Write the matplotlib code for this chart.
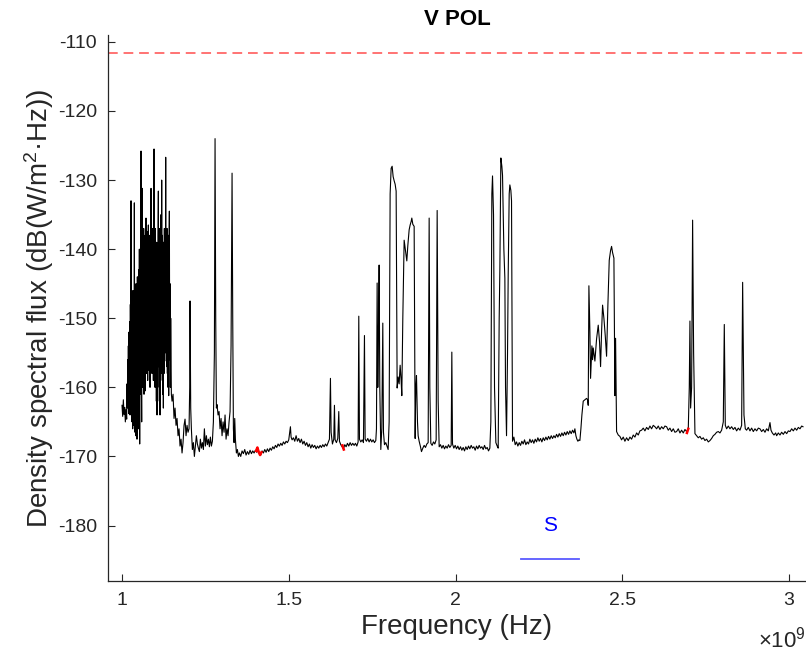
import numpy as np
import matplotlib.pyplot as plt

plt.rcParams['font.family'] = ['Liberation Sans', 'DejaVu Sans']
plt.rcParams['mathtext.default'] = 'regular'
plt.rcParams['axes.unicode_minus'] = False

# spectrum trace, (frequency GHz, flux dB)
seg_dense = [
    (1.000, -162.6), (1.002, -164.2), (1.004, -161.8), (1.006, -163.9), (1.008, -162.9),
    (1.010, -165.0), (1.012, -163.2), (1.014, -164.6), (1.015, -159.5), (1.016, -163.0),
    (1.017, -156.0), (1.018, -162.5), (1.019, -154.0), (1.020, -163.8), (1.021, -152.0),
    (1.022, -161.5), (1.023, -150.5), (1.024, -164.0), (1.025, -148.0), (1.026, -160.0),
    (1.027, -133.0), (1.028, -158.0), (1.029, -146.0), (1.030, -165.0), (1.031, -150.0),
    (1.032, -166.0), (1.033, -146.0), (1.034, -163.0), (1.035, -149.0), (1.036, -165.5),
    (1.037, -133.3), (1.038, -160.0), (1.039, -166.5), (1.040, -147.0), (1.041, -167.0),
    (1.042, -145.0), (1.043, -164.0), (1.044, -150.0), (1.045, -167.5), (1.046, -144.0),
    (1.047, -162.0), (1.048, -146.0), (1.049, -166.0), (1.050, -143.0), (1.051, -164.0),
    (1.052, -140.0), (1.053, -168.2), (1.054, -142.0), (1.055, -161.0), (1.056, -138.0),
    (1.057, -125.8), (1.058, -158.0), (1.059, -165.0), (1.060, -140.0), (1.061, -131.2),
    (1.062, -160.0), (1.063, -139.0), (1.064, -158.0), (1.065, -137.0), (1.066, -161.0),
    (1.067, -141.0), (1.068, -157.0), (1.069, -138.0), (1.070, -160.5), (1.071, -140.0),
    (1.072, -135.5), (1.073, -158.0), (1.074, -139.0), (1.075, -156.0), (1.076, -137.5),
    (1.077, -159.0), (1.078, -141.0), (1.079, -136.5), (1.080, -157.5), (1.081, -139.0),
    (1.082, -155.0), (1.083, -138.0), (1.084, -160.0), (1.085, -140.0), (1.086, -151.4),
    (1.087, -131.2), (1.088, -156.0), (1.089, -139.0), (1.090, -158.0), (1.091, -137.0),
    (1.092, -155.0), (1.093, -141.0), (1.094, -159.0), (1.095, -139.0), (1.096, -125.5),
    (1.097, -154.3), (1.098, -138.0), (1.099, -160.0), (1.100, -137.0), (1.101, -158.0),
    (1.102, -140.0), (1.103, -162.0), (1.104, -139.0), (1.105, -164.0), (1.106, -141.0),
    (1.107, -160.0), (1.108, -138.0), (1.109, -131.6), (1.110, -157.0), (1.111, -140.0),
    (1.112, -162.0), (1.113, -137.0), (1.114, -164.0), (1.115, -139.0), (1.116, -159.0),
    (1.117, -135.0), (1.118, -158.0), (1.119, -130.0), (1.120, -156.0), (1.121, -138.0),
    (1.122, -161.0), (1.123, -140.0), (1.124, -163.0), (1.125, -139.0), (1.126, -158.0),
    (1.127, -137.0), (1.128, -156.2), (1.129, -138.0), (1.130, -155.0), (1.131, -126.7),
    (1.132, -152.0), (1.133, -139.0), (1.134, -157.0), (1.135, -137.0), (1.136, -158.0),
    (1.137, -140.0), (1.138, -160.0), (1.139, -138.0), (1.140, -161.2), (1.141, -140.0),
    (1.142, -134.5), (1.143, -156.0), (1.144, -145.0), (1.145, -160.0), (1.146, -150.0),
    (1.148, -161.0), (1.150, -162.0), (1.153, -161.0),
]

seg_low = [
    (1.156, -164.5), (1.159, -163.0), (1.162, -165.5), (1.165, -164.5), (1.168, -167.0),
    (1.171, -166.0), (1.174, -168.5), (1.177, -167.5), (1.180, -169.5), (1.183, -168.0),
    (1.186, -165.5), (1.189, -164.6), (1.192, -167.0), (1.195, -165.5), (1.198, -166.5),
    (1.201, -166.0), (1.203, -160.0), (1.204, -147.5), (1.206, -163.0), (1.208, -166.0),
    (1.211, -169.0), (1.214, -168.0), (1.217, -170.0), (1.220, -168.5), (1.223, -167.0),
    (1.226, -168.2), (1.229, -168.8), (1.232, -169.3), (1.235, -167.5), (1.238, -168.8),
    (1.241, -168.0), (1.244, -169.0), (1.247, -166.0), (1.250, -168.5), (1.253, -167.0),
    (1.256, -168.3), (1.259, -167.5), (1.262, -168.6), (1.265, -167.2), (1.268, -168.5),
    (1.271, -167.8), (1.274, -165.0), (1.277, -155.0), (1.279, -124.0), (1.281, -150.0),
    (1.283, -163.0), (1.285, -162.5), (1.288, -164.0), (1.291, -163.5), (1.294, -166.0),
    (1.297, -164.5), (1.300, -167.0), (1.303, -165.0), (1.306, -166.5), (1.309, -164.0),
    (1.312, -167.5), (1.315, -166.0), (1.318, -167.0), (1.321, -165.0), (1.324, -163.5),
    (1.327, -154.0), (1.330, -129.0), (1.332, -150.0), (1.334, -166.0), (1.336, -168.0),
    (1.338, -164.5), (1.340, -167.5), (1.343, -169.5), (1.346, -169.0), (1.349, -170.0),
]

seg_mid = [
    (1.352, -169.5), (1.356, -170.0), (1.360, -169.2), (1.364, -169.6), (1.368, -169.0),
    (1.372, -169.8), (1.376, -169.3), (1.380, -169.7), (1.384, -169.1), (1.388, -169.6),
    (1.392, -169.2), (1.396, -169.5), (1.400, -169.1), (1.404, -169.4), (1.408, -169.0),
    (1.412, -169.5), (1.416, -169.8), (1.420, -169.2), (1.424, -169.5), (1.428, -169.0),
    (1.432, -169.4), (1.436, -168.9), (1.440, -169.3), (1.444, -168.8), (1.448, -169.1),
    (1.452, -168.6), (1.456, -168.9), (1.460, -168.4), (1.464, -168.7), (1.468, -168.2),
    (1.472, -168.5), (1.476, -168.1), (1.480, -168.4), (1.484, -167.9), (1.488, -168.2),
    (1.492, -167.8), (1.496, -168.0), (1.500, -167.6), (1.503, -166.5), (1.505, -165.7),
    (1.507, -167.2), (1.510, -167.6), (1.514, -167.3), (1.518, -167.8), (1.522, -167.0),
    (1.526, -167.8), (1.530, -167.4), (1.534, -168.0), (1.538, -167.5), (1.542, -168.2),
    (1.546, -167.8), (1.550, -168.4), (1.554, -168.0), (1.558, -168.6), (1.562, -168.2),
    (1.566, -168.8), (1.570, -168.3), (1.574, -168.7), (1.578, -168.4), (1.582, -168.9),
    (1.586, -168.5), (1.590, -168.8), (1.594, -168.4), (1.598, -168.7), (1.602, -168.3),
    (1.606, -168.6), (1.610, -168.2), (1.614, -168.5), (1.618, -168.0), (1.622, -167.5),
    (1.625, -158.7), (1.627, -166.5), (1.631, -168.2), (1.635, -167.5), (1.637, -162.6),
    (1.639, -167.6), (1.643, -168.0), (1.647, -167.4), (1.650, -163.5), (1.652, -167.8),
    (1.656, -168.3), (1.660, -168.6), (1.664, -168.9), (1.668, -168.3), (1.672, -168.6),
    (1.676, -168.1), (1.680, -168.5), (1.684, -168.0), (1.688, -168.4), (1.692, -168.1),
    (1.696, -168.4), (1.700, -168.1), (1.704, -168.5), (1.708, -167.9), (1.710, -149.7),
    (1.712, -167.5), (1.716, -167.9), (1.720, -167.6), (1.724, -168.0), (1.727, -152.5),
    (1.729, -167.5), (1.733, -167.8), (1.737, -167.4), (1.741, -167.9), (1.745, -167.5),
    (1.749, -167.9), (1.753, -167.6), (1.757, -168.0), (1.761, -167.7), (1.763, -166.0),
    (1.765, -144.9), (1.767, -160.0), (1.769, -152.0), (1.771, -142.3), (1.773, -160.0),
    (1.776, -169.0), (1.779, -166.0), (1.782, -150.7), (1.784, -166.5), (1.787, -168.3),
    (1.791, -168.0), (1.795, -168.6), (1.798, -169.0), (1.801, -165.0), (1.804, -132.0),
    (1.807, -128.3), (1.810, -128.0), (1.813, -129.5), (1.816, -130.1), (1.819, -130.6),
    (1.822, -131.6), (1.825, -160.1), (1.828, -158.5), (1.831, -159.5), (1.834, -156.8),
    (1.837, -159.0), (1.839, -161.2), (1.842, -150.0), (1.846, -138.7), (1.849, -139.8),
    (1.852, -141.0), (1.854, -141.7), (1.857, -139.5), (1.861, -137.2), (1.864, -136.5),
    (1.867, -136.0), (1.869, -135.5), (1.872, -136.4), (1.876, -136.7), (1.879, -167.4),
    (1.881, -160.0), (1.883, -158.3), (1.886, -165.0), (1.888, -167.0), (1.891, -167.8),
    (1.895, -168.6), (1.898, -169.3), (1.902, -168.8), (1.906, -168.4), (1.910, -168.7),
    (1.914, -168.2), (1.918, -168.0), (1.921, -135.5), (1.923, -160.0), (1.926, -168.1),
    (1.930, -168.4), (1.934, -167.9), (1.938, -168.2), (1.942, -167.6), (1.945, -134.4),
    (1.948, -162.0), (1.951, -168.6), (1.955, -168.3), (1.959, -168.8), (1.963, -168.4),
    (1.967, -168.9), (1.971, -168.5), (1.975, -168.8), (1.979, -168.3), (1.983, -168.7),
    (1.987, -168.4), (1.989, -154.9), (1.991, -168.2), (1.995, -168.8), (1.999, -168.4),
]

seg_high = [
    (2.003, -168.9), (2.007, -168.5), (2.011, -169.0), (2.015, -168.6), (2.019, -169.1),
    (2.023, -168.7), (2.027, -169.2), (2.031, -168.6), (2.035, -169.0), (2.039, -168.5),
    (2.043, -168.9), (2.047, -168.4), (2.051, -168.8), (2.055, -168.6), (2.059, -169.1),
    (2.063, -168.5), (2.067, -168.9), (2.071, -168.4), (2.075, -168.8), (2.079, -168.6),
    (2.083, -169.0), (2.087, -168.4), (2.091, -168.9), (2.095, -168.7), (2.099, -169.2),
    (2.103, -168.8), (2.106, -165.0), (2.109, -132.0), (2.111, -129.4), (2.114, -135.0),
    (2.117, -160.0), (2.121, -168.0), (2.125, -168.5), (2.128, -168.8), (2.131, -150.0),
    (2.133, -143.0), (2.136, -126.8), (2.139, -128.0), (2.141, -129.3), (2.145, -140.0),
    (2.148, -144.2), (2.150, -160.0), (2.153, -167.0), (2.156, -155.0), (2.158, -143.8),
    (2.161, -132.0), (2.163, -130.7), (2.166, -131.5), (2.168, -133.0), (2.171, -167.8),
    (2.175, -167.2), (2.179, -168.3), (2.183, -167.9), (2.187, -168.5), (2.191, -168.0),
    (2.195, -168.4), (2.199, -167.8), (2.203, -168.2), (2.207, -167.6), (2.211, -168.3),
    (2.215, -167.9), (2.219, -168.2), (2.223, -167.5), (2.227, -168.0), (2.231, -167.6),
    (2.235, -168.1), (2.239, -167.5), (2.243, -167.9), (2.247, -167.3), (2.251, -167.8),
    (2.255, -167.4), (2.259, -167.9), (2.263, -167.3), (2.267, -167.7), (2.271, -167.2),
    (2.275, -167.6), (2.279, -167.1), (2.283, -167.5), (2.287, -167.0), (2.291, -167.4),
    (2.295, -167.0), (2.299, -167.3), (2.303, -166.8), (2.307, -167.2), (2.311, -166.7),
    (2.315, -167.1), (2.319, -166.6), (2.323, -167.0), (2.327, -166.5), (2.331, -166.9),
    (2.335, -166.4), (2.339, -166.8), (2.343, -166.3), (2.347, -166.7), (2.351, -166.2),
    (2.355, -166.6), (2.358, -166.0), (2.361, -167.0), (2.364, -167.5), (2.367, -167.8),
    (2.370, -167.6), (2.373, -167.7), (2.376, -166.0), (2.379, -164.0), (2.383, -162.0),
    (2.388, -161.8), (2.393, -161.6), (2.396, -161.8), (2.398, -162.6), (2.400, -145.3),
    (2.403, -152.0), (2.405, -158.7), (2.409, -154.0), (2.411, -156.0), (2.413, -154.3),
    (2.418, -156.2), (2.423, -153.0), (2.428, -151.0), (2.432, -153.5), (2.435, -157.0),
    (2.438, -152.0), (2.441, -148.1), (2.445, -150.0), (2.449, -152.5), (2.453, -155.5),
    (2.457, -148.0), (2.461, -141.6), (2.465, -140.2), (2.468, -139.6), (2.471, -140.5),
    (2.475, -141.3), (2.478, -161.2), (2.480, -152.9), (2.483, -166.4), (2.488, -166.9),
    (2.493, -167.1), (2.498, -167.6), (2.503, -167.2), (2.508, -167.8), (2.513, -167.3),
    (2.518, -167.7), (2.523, -167.2), (2.528, -167.5), (2.533, -166.9), (2.538, -167.2),
    (2.543, -166.6), (2.548, -166.9), (2.553, -166.3), (2.558, -166.2), (2.563, -165.9),
    (2.568, -166.3), (2.573, -165.8), (2.578, -166.1), (2.583, -165.6), (2.588, -166.0),
    (2.593, -165.5), (2.598, -165.7), (2.603, -166.0), (2.608, -165.6), (2.613, -166.1),
    (2.618, -165.7), (2.623, -166.0), (2.628, -165.6), (2.633, -165.7), (2.638, -166.2),
    (2.643, -165.9), (2.648, -166.4), (2.653, -166.0), (2.658, -166.5), (2.663, -166.4),
    (2.668, -166.0), (2.673, -166.6), (2.678, -166.2), (2.683, -166.6), (2.688, -166.1),
    (2.693, -166.4), (2.698, -166.0), (2.701, -160.0), (2.703, -150.4), (2.705, -163.0),
    (2.708, -160.0), (2.711, -135.8), (2.714, -155.0), (2.718, -166.7), (2.723, -167.0),
    (2.728, -167.3), (2.733, -167.1), (2.738, -167.5), (2.743, -167.3), (2.748, -167.7),
    (2.753, -167.5), (2.758, -167.9), (2.763, -167.7), (2.768, -167.4), (2.773, -167.0),
    (2.778, -166.8), (2.783, -166.5), (2.788, -166.4), (2.793, -166.6), (2.798, -166.2),
    (2.803, -165.0), (2.806, -150.9), (2.809, -165.5), (2.813, -166.0), (2.818, -165.6),
    (2.823, -166.0), (2.828, -165.7), (2.833, -166.1), (2.838, -165.8), (2.843, -166.3),
    (2.848, -165.9), (2.853, -166.2), (2.858, -165.5), (2.861, -144.8), (2.865, -164.0),
    (2.869, -166.0), (2.873, -166.2), (2.878, -165.8), (2.883, -166.3), (2.888, -165.9),
    (2.893, -166.4), (2.898, -166.0), (2.903, -166.3), (2.908, -165.9), (2.913, -166.0),
    (2.918, -166.4), (2.923, -166.1), (2.928, -166.5), (2.933, -166.0), (2.938, -166.3),
    (2.943, -165.1), (2.946, -166.2), (2.950, -166.6), (2.955, -166.9), (2.960, -166.6),
    (2.963, -167.0), (2.968, -166.6), (2.973, -166.9), (2.978, -166.5), (2.983, -166.8),
    (2.988, -166.4), (2.993, -166.7), (2.998, -166.3), (3.003, -166.4), (3.008, -166.0),
    (3.013, -166.3), (3.018, -165.9), (3.023, -166.2), (3.028, -165.8), (3.033, -166.0),
    (3.038, -165.6), (3.042, -165.7),
]

# flagged points drawn in red
flag_a = [(1.402, -169.2), (1.406, -168.7), (1.410, -169.4), (1.414, -169.8), (1.418, -169.4)]
flag_b = [(1.661, -168.4), (1.665, -169.0)]
flag_c = [(2.694, -166.6), (2.698, -166.0)]

limit_db = -111.6
band_name = 'S'
band_ghz = (2.197, 2.371)
band_db = -184.9

trace = np.array(seg_dense + seg_low + seg_mid + seg_high)
freq = trace[:, 0] * 1e9
flux = trace[:, 1]

fig = plt.figure(figsize=(8.06, 6.6), dpi=100)
ax = fig.add_axes([0.134, 0.12, 0.866, 0.827])

ax.axhline(limit_db, color=(1, 0.45, 0.45), ls=(0, (5, 3)), lw=1.4)
ax.plot(freq, flux, color='black', lw=0.8)
for fl in (flag_a, flag_b, flag_c):
    fa = np.array(fl)
    ax.plot(fa[:, 0] * 1e9, fa[:, 1], color='red', lw=1.8)

ax.plot(np.array(band_ghz) * 1e9, [band_db, band_db], color=(0.35, 0.35, 1), lw=1.3)
ax.text(np.mean(band_ghz) * 1e9, band_db + 4.9, band_name, color='blue',
        fontsize=15, ha='center', va='center')

ax.set_xlim(0.958e9, 3.051e9)
ax.set_ylim(-188, -109)
ax.set_xticks([1e9, 1.5e9, 2e9, 2.5e9, 3e9])
ax.set_xticklabels(['1', '1.5', '2', '2.5', '3'])
ax.set_yticks(np.arange(-180, -109, 10))

for s in ('top', 'right'):
    ax.spines[s].set_visible(False)
for s in ('left', 'bottom'):
    ax.spines[s].set_color('#262626')
    ax.spines[s].set_linewidth(0.9)
ax.tick_params(direction='in', length=5, width=0.8, colors='#262626', labelsize=14, pad=8)

ax.set_xlabel('Frequency (Hz)', fontsize=20, color='#262626', labelpad=4)
ax.set_ylabel('Density spectral flux (dB(W/m$^2$·Hz))', fontsize=20, color='#262626', labelpad=1)
ax.set_title('V POL', fontsize=16, fontweight='bold', pad=7)
ax.text(1.0, -0.108, '×10$^9$', transform=ax.transAxes, ha='right', va='center',
        fontsize=16, color='#262626')

fig.savefig('out.png', dpi=100)
